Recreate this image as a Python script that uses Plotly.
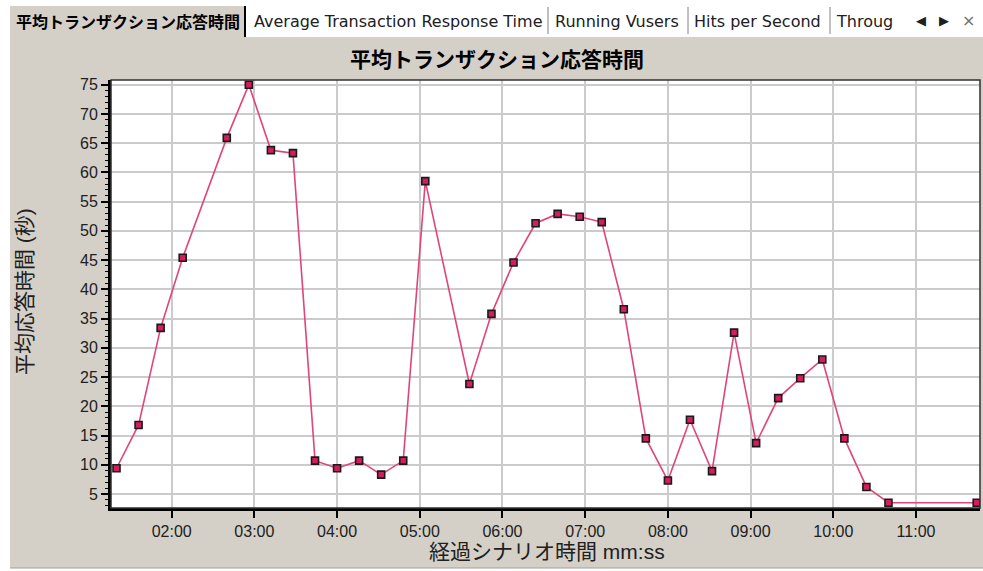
import plotly.graph_objects as go

# ---- data ----
elapsed_seconds = [80, 96, 112, 128, 160, 176, 192, 208, 224, 240, 256, 272, 288, 304,
                   336, 352, 368, 384, 400, 416, 432, 448, 464, 480, 496, 512, 528,
                   544, 560, 576, 592, 608, 624, 640, 704]
avg_response = [9.4, 16.8, 33.4, 45.4, 65.9, 75.0, 63.8, 63.3, 10.7, 9.4, 10.7, 8.3, 10.7, 58.5,
                23.8, 35.8, 44.6, 51.3, 52.9, 52.4, 51.5, 36.6, 14.5, 7.3, 17.7, 8.9, 32.6,
                13.7, 21.4, 24.8, 28.0, 14.5, 6.2, 3.5, 3.5]
x_tick_labels = ["02:00", "03:00", "04:00", "05:00", "06:00", "07:00", "08:00", "09:00", "10:00", "11:00"]
y_tick_values = [5, 10, 15, 20, 25, 30, 35, 40, 45, 50, 55, 60, 65, 70, 75]
tab_labels = ["Average Transaction Response Time", "Running Vusers", "Hits per Second", "Throughput"]

title_text = "平均トランザクション応答時間"
x_title = "経過シナリオ時間 mm:ss"
y_title = "平均応答時間 (秒)"

def mmss_to_sec(s):
    m, sec = s.split(":")
    return int(m) * 60 + int(sec)

x_tick_vals = [mmss_to_sec(s) for s in x_tick_labels]

W, H = 983, 571
L, R, T, B = 111, 980, 80, 508

def px(x):
    return (x - L) / (R - L)

def py(y):
    return (B - y) / (B - T)

BG = "#D4D0C8"
LAT = "Liberation Sans, Arial, Noto Sans CJK JP, sans-serif"
TAB = "DejaVu Sans, Noto Sans CJK JP, sans-serif"
JP = "Noto Sans CJK JP, sans-serif"

fig = go.Figure()
fig.add_trace(go.Scatter(
    x=elapsed_seconds, y=avg_response, mode="lines+markers",
    line=dict(color="#E0457A", width=1.6),
    marker=dict(symbol="square", size=7, color="#D41E5C",
                line=dict(color="#1A1A1A", width=1.6)),
    hoverinfo="skip", showlegend=False,
))

shapes = []
# white outer margins
shapes.append(dict(type="rect", xref="paper", yref="paper", x0=px(0), x1=px(W), y0=py(0), y1=py(6),
                   fillcolor="white", line=dict(width=0), layer="below"))
shapes.append(dict(type="rect", xref="paper", yref="paper", x0=px(0), x1=px(10), y0=py(0), y1=py(H),
                   fillcolor="white", line=dict(width=0), layer="below"))
shapes.append(dict(type="rect", xref="paper", yref="paper", x0=px(0), x1=px(W), y0=py(568), y1=py(H),
                   fillcolor="white", line=dict(width=0), layer="below"))
shapes.append(dict(type="line", xref="paper", yref="paper", x0=px(10), x1=px(W), y0=py(568), y1=py(568),
                   line=dict(color="#A0A0A0", width=1), layer="below"))
# tab strip (unselected tabs white)
shapes.append(dict(type="rect", xref="paper", yref="paper", x0=px(246), x1=px(W), y0=py(6), y1=py(37),
                   fillcolor="white", line=dict(width=0), layer="below"))
shapes.append(dict(type="line", xref="paper", yref="paper", x0=px(245), x1=px(245), y0=py(6), y1=py(37),
                   line=dict(color="black", width=2), layer="below"))
for sx in [548, 688, 830]:
    shapes.append(dict(type="line", xref="paper", yref="paper", x0=px(sx), x1=px(sx), y0=py(7), y1=py(34),
                       line=dict(color="#808080", width=1), layer="below"))
# plot frame top/right
shapes.append(dict(type="rect", xref="paper", yref="paper", x0=0, x1=1, y0=0, y1=1,
                   line=dict(color="#303030", width=1.5), layer="above"))

annotations = []
annotations.append(dict(text="<b>" + title_text + "</b>", xref="paper", yref="paper",
                        x=px(14), y=py(21), xanchor="left", yanchor="middle", showarrow=False,
                        font=dict(family=JP, size=16, color="black")))
tab_x = [252, 553, 692, 834]
for lbl, tx in zip(tab_labels, tab_x):
    text = lbl if lbl != "Throughput" else "Throug"
    annotations.append(dict(text=text, xref="paper", yref="paper", x=px(tx), y=py(21),
                            xanchor="left", yanchor="middle", showarrow=False,
                            font=dict(family=TAB, size=16, color="#202020")))
# cover clipped tab text
shapes.append(dict(type="rect", xref="paper", yref="paper", x0=px(902), x1=px(W), y0=py(6), y1=py(37),
                   fillcolor="white", line=dict(width=0), layer="above"))
for sym, sx in [("◀", 921), ("▶", 944), ("×", 968)]:
    annotations.append(dict(text=sym, xref="paper", yref="paper", x=px(sx), y=py(20),
                            xanchor="center", yanchor="middle", showarrow=False,
                            font=dict(family="DejaVu Sans", size=13 if sym != "×" else 16,
                                      color="#202020" if sym != "×" else "#707070")))
annotations.append(dict(text="<b>" + title_text + "</b>", xref="paper", yref="paper",
                        x=px(497), y=py(58), xanchor="center", yanchor="middle", showarrow=False,
                        font=dict(family=JP, size=21, color="black")))
annotations.append(dict(text=x_title, xref="paper", yref="paper",
                        x=px(547), y=py(551), xanchor="center", yanchor="middle", showarrow=False,
                        font=dict(family=LAT, size=21, color="#202020")))
annotations.append(dict(text=y_title, xref="paper", yref="paper", textangle=-90,
                        x=px(24), y=py(292), xanchor="center", yanchor="middle", showarrow=False,
                        font=dict(family=LAT, size=21, color="#202020")))

fig.update_layout(
    width=W, height=H,
    margin=dict(l=L, r=W - R, t=T, b=H - B, pad=0),
    paper_bgcolor=BG, plot_bgcolor="white",
    shapes=shapes, annotations=annotations,
    xaxis=dict(range=[76, 706.4], tickvals=x_tick_vals, ticktext=x_tick_labels,
               showgrid=True, gridcolor="#CBCBCB", gridwidth=1.6,
               showline=True, linecolor="black", linewidth=3, zeroline=False,
               ticks="outside", ticklen=7, tickwidth=1.5, tickcolor="black",
               tickfont=dict(family=LAT, size=16, color="#202020"), fixedrange=True),
    yaxis=dict(range=[2.6, 75.8], tickvals=y_tick_values,
               showgrid=True, gridcolor="#CBCBCB", gridwidth=1.6,
               showline=True, linecolor="black", linewidth=3, zeroline=False,
               ticks="outside", ticklen=7, tickwidth=1.5, tickcolor="black",
               minor=dict(dtick=1, ticks="outside", ticklen=3, tickwidth=1, tickcolor="black", showgrid=False),
               tickfont=dict(family=LAT, size=16, color="#202020"), fixedrange=True),
)

fig.write_html("out.html", config={"displayModeBar": False},
               post_script="document.body.style.margin='0';document.body.style.overflow='hidden';")
